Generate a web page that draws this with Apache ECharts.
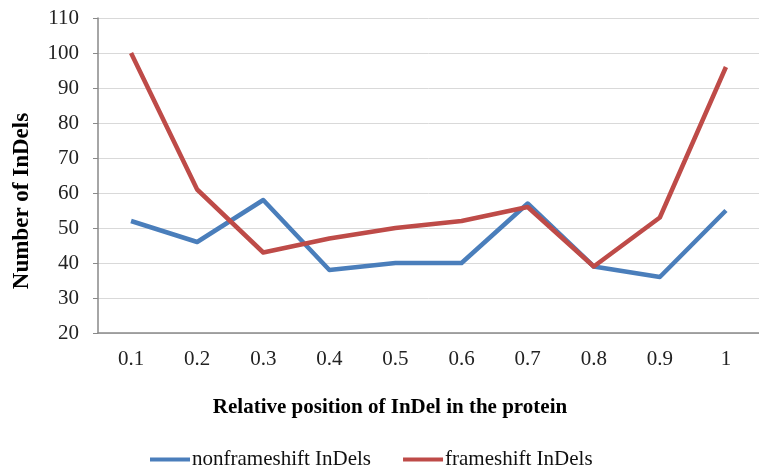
<!DOCTYPE html>
<html>
<head>
<meta charset="utf-8">
<script src="https://cdn.jsdelivr.net/npm/echarts@6/dist/echarts.min.js"></script>
<style>
  html, body { margin: 0; padding: 0; background: #fff; }
  #chart { width: 759px; height: 470px; }
</style>
</head>
<body>
<div id="chart"></div>
<script>
// Relative position bins along the protein
const positions = ['0.1', '0.2', '0.3', '0.4', '0.5', '0.6', '0.7', '0.8', '0.9', '1'];
// InDel counts per bin
const nonframeshift = [52, 46, 58, 38, 40, 40, 57, 39, 36, 55];
const frameshift = [100, 61, 43, 47, 50, 52, 56, 39, 53, 96];

const serif = '"Liberation Serif", "DejaVu Serif", serif';
const axisGrey = '#898989';

const chart = echarts.init(document.getElementById('chart'), null, { renderer: 'canvas' });
chart.setOption({
  backgroundColor: '#ffffff',
  animation: false,
  grid: { left: 98, top: 18, width: 670, height: 315 },
  xAxis: {
    type: 'category',
    data: positions,
    boundaryGap: true,
    axisLine: { show: true, lineStyle: { color: axisGrey, width: 1.5 } },
    axisTick: { show: false },
    axisLabel: { color: '#222', fontFamily: serif, fontSize: 21, margin: 16 }
  },
  yAxis: {
    type: 'value',
    min: 20,
    max: 110,
    interval: 10,
    axisLine: { show: true, lineStyle: { color: axisGrey, width: 1.5 } },
    axisTick: { show: true, length: 5, lineStyle: { color: axisGrey } },
    axisLabel: { color: '#222', fontFamily: serif, fontSize: 21, margin: 19 },
    splitLine: { show: true, lineStyle: { color: '#d9d9d9', width: 1 } }
  },
  legend: {
    left: 145,
    top: 444,
    itemGap: 32,
    itemWidth: 40,
    itemHeight: 4,
    icon: 'rect',
    textStyle: { color: '#111', fontFamily: serif, fontSize: 21, padding: [0, 0, 0, -3] },
    data: ['nonframeshift InDels', 'frameshift InDels']
  },
  graphic: [
    {
      type: 'text',
      x: 390,
      y: 408,
      style: {
        text: 'Relative position of InDel in the protein',
        font: 'bold 21px ' + serif,
        fill: '#000',
        align: 'center',
        verticalAlign: 'middle'
      }
    },
    {
      type: 'text',
      x: 22,
      y: 201,
      rotation: Math.PI / 2,
      style: {
        text: 'Number of InDels',
        font: 'bold 23px ' + serif,
        fill: '#000',
        align: 'center',
        verticalAlign: 'middle'
      }
    }
  ],
  series: [
    {
      name: 'nonframeshift InDels',
      type: 'line',
      data: nonframeshift,
      symbol: 'none',
      itemStyle: { color: '#4a7ebb' },
      lineStyle: { color: '#4a7ebb', width: 4.5, join: 'round' }
    },
    {
      name: 'frameshift InDels',
      type: 'line',
      data: frameshift,
      symbol: 'none',
      itemStyle: { color: '#be4b48' },
      lineStyle: { color: '#be4b48', width: 4.5, join: 'round' }
    }
  ]
});
</script>
</body>
</html>
